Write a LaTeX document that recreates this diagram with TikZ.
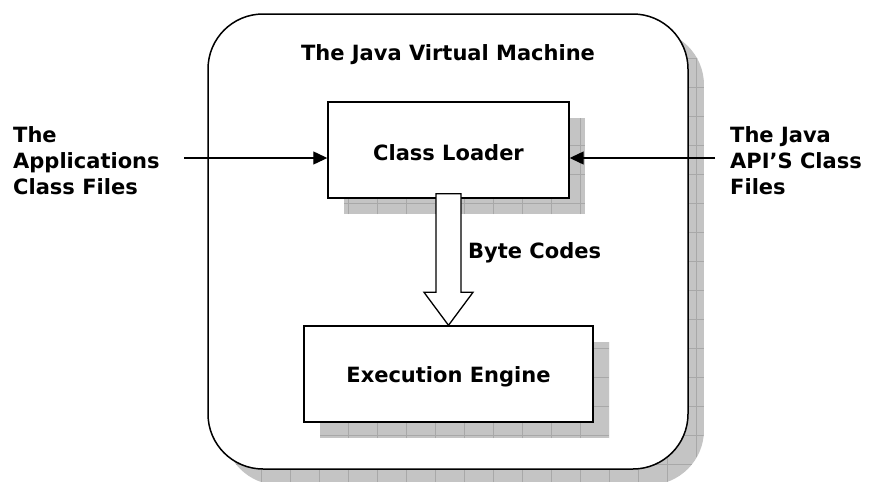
\documentclass[tikz,border=0pt]{standalone}
\usepackage{fontspec}
\setmainfont{DejaVu Sans}
\usetikzlibrary{arrows.meta,calc}
\definecolor{shadowgray}{HTML}{C4C4C4}
\definecolor{gridgray}{HTML}{A8A8A8}
\tikzset{
  lbl/.style={font=\bfseries\fontsize{21}{26}\selectfont, inner sep=0pt},
  boxnode/.style={draw, line width=1.4pt, fill=white, minimum height=96pt, inner sep=0pt},
  conn/.style={line width=1.2pt, -{Triangle[length=14pt,width=13pt]}},
  shadowfill/.style={fill=shadowgray},
  shadowgrid/.style={draw=gridgray, line width=0.6pt}
}
\newcommand{\myshadow}[3]{%
  \begin{scope}
    \clip[rounded corners=#3] #1 rectangle #2;
    \fill[shadowfill] #1 rectangle #2;
    \draw[shadowgrid, step=29pt] #1 grid #2;
  \end{scope}}
\begin{document}
\begin{tikzpicture}[x=1pt,y=-1pt]
\useasboundingbox (0,0) rectangle (871,482);
% outer machine
\myshadow{(224,30)}{(704,485)}{55pt}
\node[draw, line width=1.5pt, fill=white, rounded corners=55pt, minimum width=480pt, minimum height=455pt] (jvm) at (448,241.5) {};
\node[lbl] (title) at (448,55) {The Java Virtual Machine};
% class loader
\myshadow{(344,118)}{(585,214)}{0pt}
\node[boxnode, minimum width=241pt] (cl) at (448.5,150) {};
\node[lbl] (cltext) at (448.5,153) {Class Loader};
% execution engine
\myshadow{(320,342)}{(609,438)}{0pt}
\node[boxnode, minimum width=289pt] (ee) at (448.5,374) {};
\node[lbl] (eetext) at (448.5,377) {Execution Engine};
% block arrow
\draw[line width=1.3pt, fill=white, line join=miter]
  ($(cl.south)+(-12.5,-5)$) -- ($(cl.south)+(12.5,-5)$) -- ($(ee.north)+(12.5,-33)$)
  -- ($(ee.north)+(24.5,-33)$) -- (ee.north) -- ($(ee.north)+(-24.5,-33)$)
  -- ($(ee.north)+(-12.5,-33)$) -- cycle;
\node[lbl, anchor=west] (bc) at (468,253) {Byte Codes};
% side inputs
\node[lbl, anchor=west, align=left] (apps) at (13,161) {The\\Applications\\Class Files};
\node[lbl, anchor=west, align=left] (api) at (730,161) {The Java\\API'S Class\\Files};
\coordinate (la) at (184,158);
\coordinate (ra) at (715,158);
\draw[conn] (la) -- (la -| cl.west);
\draw[conn] (ra) -- (ra -| cl.east);
\end{tikzpicture}
\end{document}
